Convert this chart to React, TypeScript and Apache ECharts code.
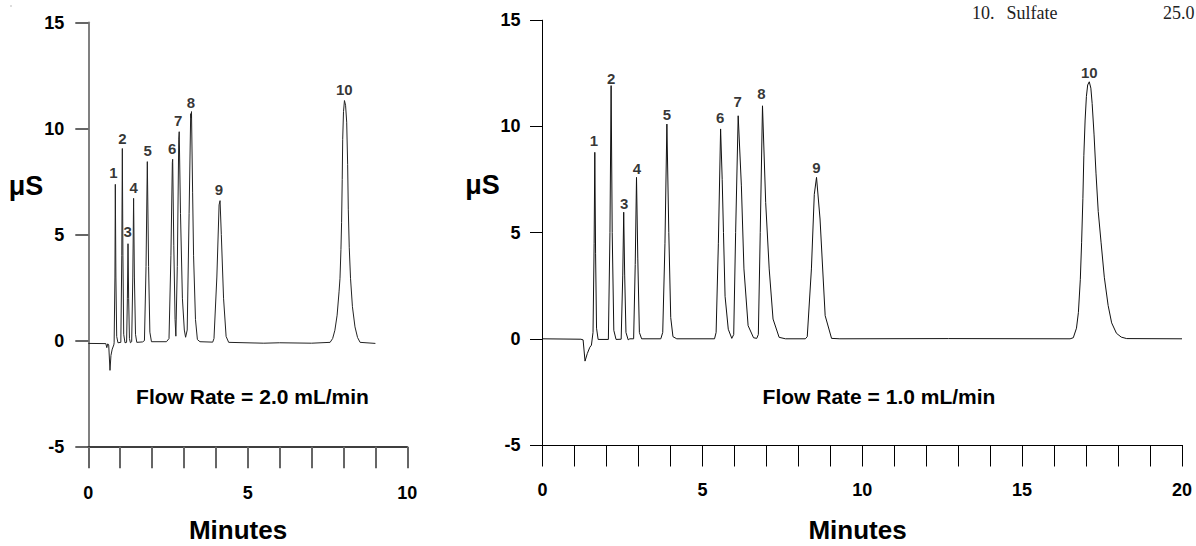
import React, { useEffect, useRef } from "react";
import * as echarts from "echarts";

// Flow rate 2.0 mL/min trace [minutes, µS]
const leftTrace: [number, number][] = [
  [0, -0.13], [0.55, -0.14], [0.58, -0.33], [0.61, -0.15], [0.64, -0.2], [0.68, -1.4], [0.71, -0.7], [0.75, -0.4], [0.8, -0.2],
  [0.81, -0.1], [0.835, 3.0], [0.847, 7.37], [0.865, 3.0], [0.89, 0.2], [0.93, -0.1],
  [1.02, -0.08], [1.05, 4.0], [1.067, 9.06], [1.085, 4.0], [1.11, 0.3], [1.15, -0.1],
  [1.2, -0.08], [1.225, 2.0], [1.245, 4.57], [1.265, 2.0], [1.29, 0.1], [1.32, -0.1],
  [1.36, -0.05], [1.395, 3.0], [1.42, 6.71], [1.445, 3.0], [1.48, 0.3], [1.52, -0.08],
  [1.7, -0.06],
  [1.76, 0.0], [1.81, 3.5], [1.85, 8.44], [1.89, 3.5], [1.93, 0.4], [1.98, -0.05],
  [2.45, -0.05],
  [2.53, 0.1], [2.59, 4.0], [2.635, 8.4], [2.645, 8.55], [2.68, 4.5], [2.72, 1.0], [2.745, 0.21],
  [2.79, 3.5], [2.835, 9.5], [2.85, 9.85], [2.89, 6.0], [2.95, 2.0], [3.01, 0.5], [3.05, 0.16],
  [3.1, 0.5], [3.16, 6.0], [3.21, 10.7], [3.225, 10.5], [3.235, 10.8], [3.27, 7.0], [3.3, 4.0], [3.36, 1.0], [3.42, 0.05], [3.5, -0.05],
  [3.9, -0.07],
  [3.94, 0.1], [4.03, 3.0], [4.1, 6.4], [4.13, 6.6], [4.17, 5.0], [4.24, 2.0], [4.32, 0.2], [4.4, -0.08],
  [5.5, -0.12], [6.0, -0.1], [7.0, -0.12], [7.58, -0.08],
  [7.66, 0.1], [7.73, 0.49], [7.8, 1.2], [7.86, 2.3], [7.89, 2.94], [7.92, 4.3], [7.94, 5.56], [7.96, 7.6], [7.975, 9.49],
  [8.0, 10.8], [8.03, 11.32], [8.065, 11.1], [8.1, 10.3], [8.13, 8.3], [8.15, 6.2], [8.18, 4.4], [8.22, 2.94], [8.28, 1.6],
  [8.36, 0.65], [8.44, 0.15], [8.52, -0.08],
  [9.0, -0.13],
];

// Flow rate 1.0 mL/min trace [minutes, µS]
const rightTrace: [number, number][] = [
  [0, 0], [1.2, -0.02], [1.27, -0.05], [1.33, -1.05], [1.4, -0.7], [1.48, -0.4], [1.53, -0.3],
  [1.58, 0.3], [1.615, 4.5], [1.636, 8.78], [1.66, 4.0], [1.69, 0.5], [1.74, -0.03],
  [2.06, -0.03], [2.11, 5.0], [2.146, 11.92], [2.18, 5.0], [2.23, 0.4], [2.3, -0.03],
  [2.46, -0.02], [2.51, 3.0], [2.54, 5.96], [2.57, 3.0], [2.61, 0.3], [2.68, -0.05], [2.73, 0.0],
  [2.85, 0.0], [2.9, 3.5], [2.94, 7.6], [2.98, 3.8], [3.03, 0.3], [3.1, 0.0],
  [3.7, 0.0],
  [3.76, 0.3], [3.83, 4.5], [3.89, 10.11], [3.95, 5.0], [4.01, 1.0], [4.08, 0.1], [4.2, 0.0],
  [5.38, 0.0],
  [5.43, 0.3], [5.5, 4.5], [5.57, 9.88], [5.62, 7.5], [5.66, 5.0], [5.71, 2.0], [5.81, 0.45], [5.92, 0.02],
  [5.98, 0.2], [6.04, 5.0], [6.12, 10.5], [6.22, 7.2], [6.3, 3.29], [6.43, 0.62], [6.6, 0.05], [6.7, 0.02],
  [6.75, 0.2], [6.81, 5.0], [6.88, 10.97], [6.98, 6.42], [7.09, 3.29], [7.21, 0.93], [7.4, 0.07], [7.6, 0.0],
  [8.22, 0.0],
  [8.28, 0.1], [8.41, 3.29], [8.5, 6.8], [8.57, 7.6], [8.68, 5.64], [8.84, 1.09], [9.04, 0.02], [9.3, 0.0],
  [12.7, 0.01], [16.5, 0.0],
  [16.6, 0.05], [16.7, 0.5], [16.76, 1.24], [16.82, 2.8], [16.86, 4.52], [16.9, 6.6], [16.93, 8.62], [16.97, 10.3],
  [17.01, 11.41], [17.05, 11.95], [17.1, 12.1], [17.15, 11.8], [17.19, 11.08], [17.25, 9.6], [17.31, 7.8], [17.38, 6.0],
  [17.47, 4.52], [17.57, 2.9], [17.69, 1.57], [17.8, 0.75], [17.95, 0.26], [18.1, 0.08], [18.27, 0.01],
  [20.0, 0.0],
];

// Peak number label anchors [minutes, µS, label]
const leftLabels: [number, number, string][] = [
  [0.784, 7.92, "1"], [1.066, 9.53, "2"], [1.235, 5.15, "3"], [1.423, 7.21, "4"], [1.862, 8.98, "5"],
  [2.633, 9.06, "6"], [2.821, 10.39, "7"], [3.219, 11.25, "8"], [4.097, 7.11, "9"], [8.025, 11.86, "10"],
];
const rightLabels: [number, number, string][] = [
  [1.605, 9.33, "1"], [2.146, 12.26, "2"], [2.552, 6.39, "3"], [2.95, 8.04, "4"], [3.888, 10.54, "5"],
  [5.555, 10.43, "6"], [6.1, 11.18, "7"], [6.85, 11.56, "8"], [8.57, 8.07, "9"], [17.1, 12.52, "10"],
];

const leftX = { min: 0, max: 10, interval: 1 };
const rightX = { min: 0, max: 20, interval: 1 };
const yRange = { min: -5, max: 15, interval: 5 };

const SANS = "Liberation Sans";

export default function App() {
  const ref = useRef<HTMLDivElement>(null);
  useEffect(() => {
    const chart = echarts.init(ref.current!, undefined, { renderer: "svg" });
    const xLabelFmt = (v: number) => (v % 5 === 0 ? String(v) : "");
    const labelSeries = (labels: [number, number, string][], idx: number) => ({
      type: "scatter",
      xAxisIndex: idx,
      yAxisIndex: idx,
      symbolSize: 1,
      itemStyle: { color: "rgba(0,0,0,0)" },
      silent: true,
      data: labels.map((l) => ({ value: [l[0], l[1]], name: l[2] })),
      label: {
        show: true,
        position: "inside",
        formatter: "{b}",
        fontFamily: SANS,
        fontWeight: "bold",
        fontSize: 15,
        color: "#000",
      },
    });
    const text = (x: number, y: number, t: string, size: number, extra: any = {}) => ({
      type: "text",
      x,
      y,
      silent: true,
      style: {
        text: t,
        fontFamily: SANS,
        fontWeight: "bold",
        fontSize: size,
        fill: "#000",
        align: "center",
        verticalAlign: "middle",
        ...extra,
      },
    });
    const serif = (x: number, t: string, align: string = "left") => ({
      type: "text",
      x,
      y: 12.8,
      silent: true,
      style: {
        text: t,
        fontFamily: "Liberation Serif",
        fontSize: 18,
        fill: "#222",
        align,
        verticalAlign: "middle",
      },
    });
    chart.setOption({
      animation: false,
      backgroundColor: "#fff",
      grid: [
        { left: 88.3, top: 22.5, width: 319, height: 424.2 },
        { left: 542.5, top: 20.2, width: 639.5, height: 424.8 },
      ],
      xAxis: [
        {
          type: "value",
          gridIndex: 0,
          ...leftX,
          axisLine: { onZero: false, lineStyle: { color: "#000", width: 1.5 } },
          axisTick: { length: 21.5, lineStyle: { color: "#666", width: 2 } },
          axisLabel: { formatter: xLabelFmt, margin: 37.5, fontFamily: SANS, fontWeight: "bold", fontSize: 18, color: "#000" },
          splitLine: { show: false },
        },
        {
          type: "value",
          gridIndex: 1,
          ...rightX,
          axisLine: { onZero: false, lineStyle: { color: "#000", width: 1 } },
          axisTick: { length: 21.5, lineStyle: { color: "#000", width: 1 } },
          axisLabel: { formatter: xLabelFmt, margin: 36, fontFamily: SANS, fontWeight: "bold", fontSize: 18, color: "#000" },
          splitLine: { show: false },
        },
      ],
      yAxis: [
        {
          type: "value",
          gridIndex: 0,
          ...yRange,
          axisLine: { show: true, onZero: false, lineStyle: { color: "#808080", width: 2 } },
          axisTick: { show: true, length: 13, lineStyle: { color: "#333", width: 1.5 } },
          axisLabel: { margin: 24, fontFamily: SANS, fontWeight: "bold", fontSize: 18, color: "#000" },
          splitLine: { show: false },
        },
        {
          type: "value",
          gridIndex: 1,
          ...yRange,
          axisLine: { show: true, onZero: false, lineStyle: { color: "#000", width: 1 } },
          axisTick: { show: true, length: 12.5, lineStyle: { color: "#000", width: 1 } },
          axisLabel: { margin: 22, fontFamily: SANS, fontWeight: "bold", fontSize: 18, color: "#000" },
          splitLine: { show: false },
        },
      ],
      series: [
        {
          type: "line",
          xAxisIndex: 0,
          yAxisIndex: 0,
          data: leftTrace,
          showSymbol: false,
          symbol: "none",
          lineStyle: { color: "#222", width: 1 },
          silent: true,
        },
        {
          type: "line",
          xAxisIndex: 1,
          yAxisIndex: 1,
          data: rightTrace,
          showSymbol: false,
          symbol: "none",
          lineStyle: { color: "#111", width: 1 },
          silent: true,
        },
        labelSeries(leftLabels, 0),
        labelSeries(rightLabels, 1),
      ],
      graphic: [
        text(26, 186, "μS", 27),
        text(482.5, 185, "μS", 27),
        text(238, 530, "Minutes", 26),
        text(857.5, 530, "Minutes", 26),
        text(252.5, 396, "Flow Rate = 2.0 mL/min", 21),
        text(879, 396, "Flow Rate = 1.0 mL/min", 21),
        serif(972, "10."),
        serif(1006.5, "Sulfate"),
        serif(1163, "25.0"),
        { type: "rect", shape: { x: 10.5, y: 5.5, width: 1, height: 1 }, style: { fill: "#777" }, silent: true },
      ],
    });
    return () => chart.dispose();
  }, []);
  return (
    <div
      ref={ref}
      style={{ position: "fixed", left: 0, top: 0, width: 1196, height: 546, background: "#fff" }}
    />
  );
}
